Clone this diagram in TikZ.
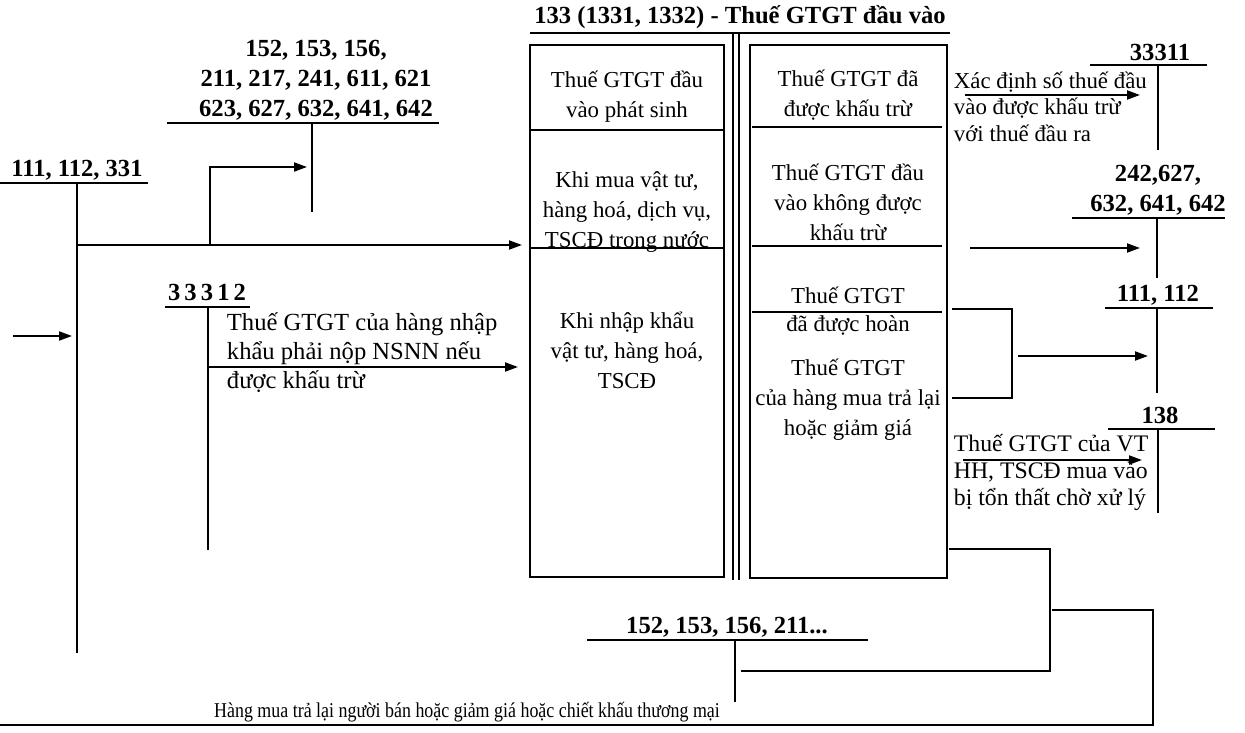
\documentclass[tikz,border=0pt]{standalone}
\usepackage{fontspec}
\setmainfont{Liberation Serif}
\usetikzlibrary{arrows.meta,positioning}

\tikzset{
    acc/.style={font=\fontsize{14}{17}\selectfont\bfseries, inner sep=0pt, align=center},
    txt/.style={font=\fontsize{13}{17}\selectfont, inner sep=0pt, align=center},
    side/.style={font=\fontsize{13.5}{15.5}\selectfont, inner sep=0pt, align=left, anchor=north west},
    arr/.style={-{Triangle[length=2.6mm,width=1.8mm]}},
}

\begin{document}
\begin{tikzpicture}[x=0.02cm, y=-0.02cm, line width=1.1pt]
    \useasboundingbox (0,0) rectangle (1245,733);

    % Account 133 frame
    \node[acc] (title) at (740,17) {133 (1331, 1332) - Thuế GTGT đầu vào};
    \draw (530,33) -- (950,33);
    \draw (733,33) -- (733,580);
    \draw (739,33) -- (739,580);
    \draw (530,45) rectangle (724,577);
    \draw (750,45) rectangle (947,578);
    \draw (530,130) -- (724,130);
    \draw (530,248) -- (724,248);
    \draw (752,127) -- (942,127);
    \draw (752,246) -- (942,246);
    \draw (752,312) -- (942,312);

    % Debit side
    \node[txt] (debit1) at (627,97) {Thuế GTGT đầu\\vào phát sinh};
    \node[txt] (debit2) at (627,212) {Khi mua vật tư,\\hàng hoá, dịch vụ,\\TSCĐ trong nước};
    \node[txt] (debit3) at (627,350) {Khi nhập khẩu\\vật tư, hàng hoá,\\TSCĐ};

    % Credit side
    \node[txt] (credit1) at (848,95) {Thuế GTGT đã\\được khấu trừ};
    \node[txt] (credit2) at (848,202) {Thuế GTGT đầu\\vào không được\\khấu trừ};
    \node[txt] (credit3) at (848,295) {Thuế GTGT};
    \node[txt] (credit4) at (848,325) {đã được hoàn};
    \node[txt] (credit5) at (848,400) {Thuế GTGT\\của hàng mua trả lại\\hoặc giảm giá};

    % Account 111, 112, 331
    \node[acc] (acc111) at (77,170) {111, 112, 331};
    \draw (0,183) -- (148,183);
    \draw (77,183) -- (77,653);
    \draw[arr] (13,336) -- (72,336);

    % Account 152, 153, ...
    \node[acc] (acc152) at (316,80) {152, 153, 156,\\211, 217, 241, 611, 621\\623, 627, 632, 641, 642};
    \draw (167,123) -- (439,123);
    \draw (312,123) -- (312,212);
    \draw[arr] (77,245) -- (522,245);
    \draw[arr] (210,245) -- (210,167) -- (307,167);

    % Account 33312
    \node[acc] (acc33312) at (207,292) {3\,3\,3\,1\,2};
    \draw (165,307) -- (250,307);
    \draw (208,307) -- (208,550);
    \node[side, font=\fontsize{14}{16.5}\selectfont] (txt33312) at (226,312) {Thuế GTGT của hàng nhập\\khẩu phải nộp NSNN nếu\\được khấu trừ};
    \draw[arr] (208,367) -- (518,367);

    % Account 33311
    \node[acc] (acc33311) at (1160,52) {33311};
    \draw (1090,65) -- (1207,65);
    \draw (1158,65) -- (1158,150);
    \node[side, font=\fontsize{13}{15}\selectfont] (txt33311) at (953,71) {Xác định số thuế đầu\\vào được khấu trừ\\với thuế đầu ra};
    \draw[arr] (965,95) -- (1140,95);

    % Account 242, 627, ...
    \node[acc] (acc242) at (1158,190) {242,627,\\632, 641, 642};
    \draw (1072,218) -- (1225,218);
    \draw (1157,218) -- (1157,278);
    \draw[arr] (970,248) -- (1140,248);

    % Account 111, 112
    \node[acc] (acc111b) at (1158,295) {111, 112};
    \draw (1105,308) -- (1213,308);
    \draw (1157,308) -- (1157,393);
    \draw (952,309) -- (1012,309) -- (1012,398) -- (952,398);
    \draw[arr] (1018,356) -- (1148,356);

    % Account 138
    \node[acc] (acc138) at (1160,415) {138};
    \draw (1108,429) -- (1215,429);
    \draw (1158,429) -- (1158,513);
    \node[side] (txt138) at (953,433) {Thuế GTGT của VT\\HH, TSCĐ mua vào\\bị tổn thất chờ xử lý};
    \draw[arr] (963,460) -- (1142,460);

    % Account 152, 153, 156, 211...
    \node[acc] (accbot) at (727,627) {152, 153, 156, 211...};
    \draw (587,640) -- (868,640);
    \draw (735,640) -- (735,702);
    \draw (949,549) -- (1050,549) -- (1050,671) -- (741,671);
    \draw (1052,610) -- (1153,610) -- (1153,725) -- (0,725);
    \node[font=\fontsize{12}{14}\selectfont, inner sep=0pt] (txtbot) at (467,712) {\scalebox{0.85}[1]{Hàng mua trả lại người bán hoặc giảm giá hoặc chiết khấu thương mại}};
\end{tikzpicture}
\end{document}
